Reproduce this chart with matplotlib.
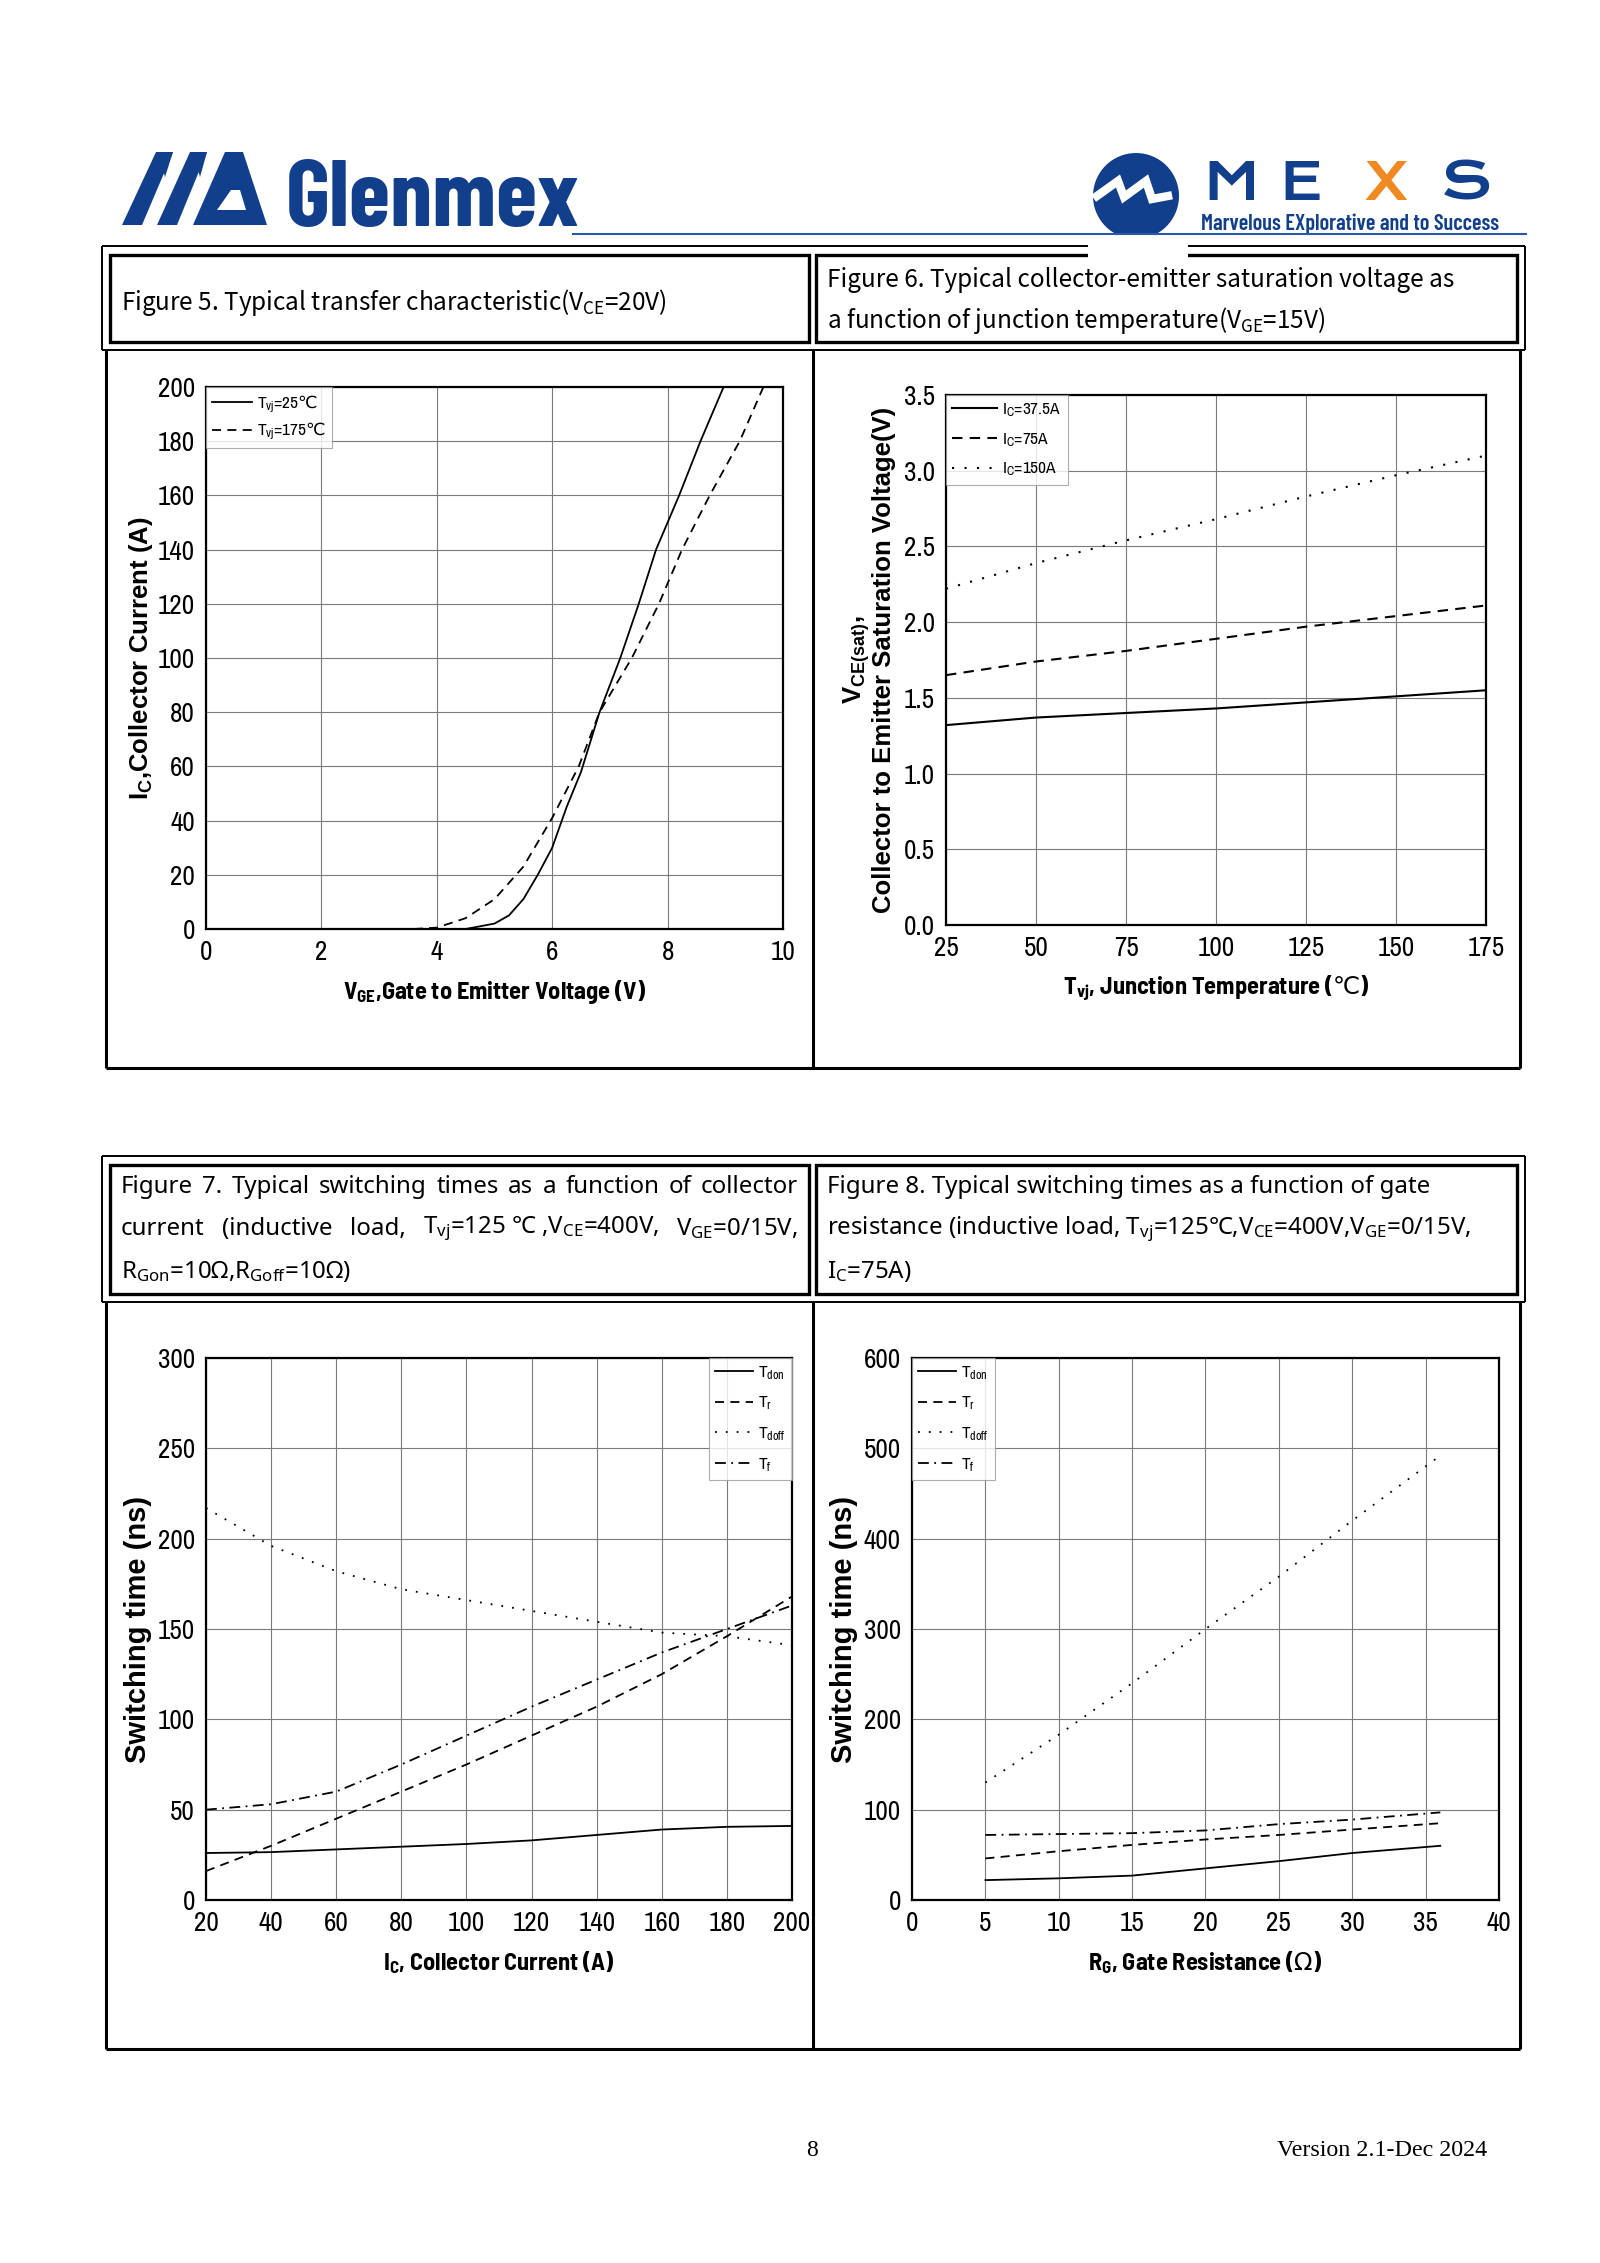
import matplotlib
matplotlib.use("Agg")
import matplotlib.pyplot as plt
from matplotlib.patches import Polygon, Circle, Rectangle
from matplotlib.ticker import FormatStrFormatter

# Figure 5: transfer characteristic (VCE=20V)
vge_25 = [3.5, 4.5, 5.0, 5.25, 5.5, 5.75, 6.0, 6.25, 6.5, 6.82, 7.18, 7.5, 7.8, 8.2, 8.57, 8.97]
ic_25 = [0, 0, 2, 5, 11, 20, 30, 45, 58, 80, 100, 120, 140, 160, 180, 200]
vge_175 = [3.6, 4.0, 4.5, 5.0, 5.5, 6.0, 6.46, 6.82, 7.38, 7.85, 8.25, 8.73, 9.25, 9.66]
ic_175 = [0, 0.5, 4, 11, 23, 41, 60, 80, 100, 120, 140, 160, 180, 200]

# Figure 6: VCE(sat) vs junction temperature
tvj = [25, 50, 75, 100, 125, 150, 175]
vce_37a = [1.32, 1.37, 1.40, 1.43, 1.47, 1.51, 1.55]
vce_75a = [1.65, 1.74, 1.81, 1.89, 1.97, 2.04, 2.11]
vce_150a = [2.22, 2.39, 2.54, 2.68, 2.83, 2.97, 3.10]

# Figure 7: switching times vs collector current
ic_sw = [20, 40, 60, 80, 100, 120, 140, 160, 180, 200]
tdon_ic = [26, 26.5, 28, 29.5, 31, 33, 36, 39, 40.5, 41]
tr_ic = [16, 30, 45, 60, 75, 91, 107, 125, 146, 168]
tdoff_ic = [217, 196, 182, 172, 166, 160, 154, 148, 146, 141]
tf_ic = [50, 53, 60, 75, 91, 107, 122, 137, 150, 163]

# Figure 8: switching times vs gate resistance
rg = [5, 10, 15, 20, 25, 30, 36]
tdon_rg = [22, 24, 27, 35, 43, 52, 60]
tr_rg = [46, 54, 61, 67, 72, 78, 85]
tdoff_rg = [130, 183, 240, 300, 358, 420, 492]
tf_rg = [72, 73, 74, 77, 84, 89, 97]

sw_labels = ["T$_{don}$", "T$_{r}$", "T$_{doff}$", "T$_{f}$"]
DEGC = "$\\mathrm{\u2103}$"
OHM = "$\\mathrm{\u03a9}$"

NARROW = ["Archivo Narrow", "Liberation Sans", "DejaVu Sans"]
NARROWB = ["Barlow Semi Condensed", "Liberation Sans", "DejaVu Sans"]
ARIAL = ["Liberation Sans", "DejaVu Sans"]
COND = ["Barlow Condensed", "Liberation Sans", "DejaVu Sans"]
WIDE = ["Krona One", "Lexend Zetta", "DejaVu Sans"]
HEAD56 = ["Noto Sans CJK SC", "DejaVu Sans"]
HEAD78 = ["Noto Sans", "Noto Sans CJK SC", "DejaVu Sans"]
BLUE = "#123f8c"

plt.rcParams["font.family"] = NARROW
plt.rcParams["mathtext.default"] = "regular"

SOLID = "-"
DASH = (0, (5, 3.5))
DOT = (0, (1, 5))
DASHDOT = (0, (6, 3, 1, 3))

W, H = 1600, 2263
fig = plt.figure(figsize=(16, 22.63), dpi=100)

page = fig.add_axes([0, 0, 1, 1], zorder=0)
page.set_xlim(0, W)
page.set_ylim(H, 0)
page.axis("off")


def px_axes(l, t, r, b):
    return fig.add_axes([l / W, 1 - b / H, (r - l) / W, (b - t) / H], zorder=2)


def style(ax, xlim, ylim, xticks, yticks):
    ax.set_xlim(xlim)
    ax.set_ylim(ylim)
    ax.set_xticks(xticks)
    ax.set_yticks(yticks)
    ax.grid(True, color="#7a7a7a", lw=0.8)
    ax.set_axisbelow(True)
    for s in ax.spines.values():
        s.set_linewidth(1.6)
    ax.tick_params(length=0, pad=8, labelsize=19.5)


def legend(ax, loc, spacing, hl=2.6):
    leg = ax.legend(loc=loc, borderaxespad=0, fancybox=False, fontsize=12.5,
                    handlelength=hl, handletextpad=0.3, labelspacing=spacing,
                    borderpad=0.35)
    leg.get_frame().set_edgecolor("#999999")
    leg.get_frame().set_linewidth(0.8)


def line(x0, y0, x1, y1, lw, color="black", z=2):
    page.plot([x0, x1], [y0, y1], color=color, lw=lw, solid_capstyle="butt", zorder=z)


def rect(x0, y0, x1, y1, lw):
    page.add_patch(Rectangle((x0, y0), x1 - x0, y1 - y0, fill=False, lw=lw,
                             edgecolor="black", joinstyle="miter"))


def justify(words, x0, x1, y, **kw):
    arts = [page.text(x0, y, w, va="center", ha="left", **kw) for w in words]
    r = fig.canvas.get_renderer()
    widths = [a.get_window_extent(renderer=r).width for a in arts]
    gap = ((x1 - x0) - sum(widths)) / (len(words) - 1)
    x = x0
    for a, wd in zip(arts, widths):
        a.set_x(x)
        x += wd + gap


# ---- header logos ----
mg = [
    [(122, 225), (142, 225), (173, 152), (156, 152)],
    [(156, 152), (173, 152), (165, 177), (163, 170)],
    [(157, 225), (177, 225), (207, 152), (190, 152)],
    [(190, 152), (207, 152), (200, 177), (198, 170)],
    [(193, 225), (267, 225), (243, 152), (225, 152)],
]
for pts in mg:
    page.add_patch(Polygon(pts, closed=True, color=BLUE, lw=0))
page.add_patch(Polygon([(217, 210), (246, 210), (240, 190), (231, 190)],
                       closed=True, color="white", lw=0))
page.text(286, 226, "Glenmex", fontsize=68, fontweight="bold", color=BLUE,
          ha="left", va="baseline", family=COND)

page.add_patch(Circle((1136, 196), 43, color=BLUE, lw=0, zorder=2))
page.add_patch(Rectangle((1088, 234), 100, 30, color="white", lw=0, zorder=3))
page.plot([1097, 1118, 1124, 1146, 1152, 1168], [196, 181, 197, 181, 199, 196],
          color="white", lw=6, solid_joinstyle="miter", zorder=4)
for ch, cx, col in [("M", 1231, BLUE), ("E", 1301, BLUE), ("X", 1386, "#ef8a22"), ("S", 1466, BLUE)]:
    page.text(cx, 200, ch, fontsize=37, color=col, ha="center", va="baseline",
              family=WIDE)
page.text(1201, 230, "Marvelous EXplorative and to Success", fontsize=16,
          fontweight="semibold", color=BLUE, ha="left", va="baseline", family=COND)
line(572, 234, 1527, 234, 1.5, color="#2a58a8", z=5)

# ---- frames ----
for top, hb, bottom in [(246, 350, 1068), (1156, 1302, 2049)]:
    line(102, top, 1525, top, 1.4)
    line(102, top, 102, hb, 1.4)
    line(1525, top, 1525, hb, 1.4)
    line(102, hb, 1525, hb, 1.4)
    rect(110, top + 9, 809, hb - 8, 2.4)
    rect(816, top + 9, 1517, hb - 8, 2.4)
    line(106, hb, 106, bottom, 2.2)
    line(813, hb, 813, bottom, 2.2)
    line(1520, hb, 1520, bottom, 2.2)
    line(106, bottom, 1520, bottom, 2.2)

# ---- header texts ----
page.text(121, 302, "Figure 5. Typical transfer characteristic(V$_{CE}$=20V)",
          fontsize=17.5, family=HEAD56, va="center", ha="left")
page.text(827, 280, "Figure 6. Typical collector-emitter saturation voltage as",
          fontsize=17.5, family=HEAD56, va="center", ha="left")
page.text(827, 320, "a function of junction temperature(V$_{GE}$=15V)",
          fontsize=17.5, family=HEAD56, va="center", ha="left")

justify("Figure 7. Typical switching times as a function of collector".split(),
        121, 798, 1187, fontsize=17.3, family=HEAD78)
justify(["current", "(inductive", "load,", "T$_{vj}$=125 \u2103 ,V$_{CE}$=400V,", "V$_{GE}$=0/15V,"],
        121, 798, 1229, fontsize=17.3, family=HEAD78)
page.text(121, 1271, "R$_{Gon}$=10\u03a9,R$_{Goff}$=10\u03a9)", fontsize=17.3,
          family=HEAD78, va="center", ha="left")
page.text(827, 1187, "Figure 8. Typical switching times as a function of gate",
          fontsize=17.3, family=HEAD78, va="center", ha="left")
page.text(827, 1229, "resistance (inductive load, T$_{vj}$=125\u2103,V$_{CE}$=400V,V$_{GE}$=0/15V,",
          fontsize=17.3, family=HEAD78, va="center", ha="left")
page.text(827, 1271, "I$_{C}$=75A)", fontsize=17.3, family=HEAD78, va="center", ha="left")

# ---- Figure 5 ----
ax5 = px_axes(206, 387, 783, 929)
ax5.plot(vge_25, ic_25, color="black", lw=1.3, ls=SOLID, label="T$_{vj}$=25" + DEGC)
ax5.plot(vge_175, ic_175, color="black", lw=1.3, ls=DASH, label="T$_{vj}$=175" + DEGC)
style(ax5, (0, 10), (0, 200), range(0, 11, 2), range(0, 201, 20))
ax5.set_xlabel("V$_{GE}$,Gate to Emitter Voltage (V)", fontsize=17.5, fontweight="bold",
               labelpad=9, family=NARROWB)
ax5.set_ylabel("I$_{C}$,Collector Current (A)", fontsize=18.5, fontweight="bold", labelpad=2,
               family=ARIAL)
legend(ax5, "upper left", 0.35, hl=2.3)

# ---- Figure 6 ----
ax6 = px_axes(946, 395, 1486, 925)
ax6.plot(tvj, vce_37a, color="black", lw=1.5, ls=SOLID, label="I$_{C}$=37.5A")
ax6.plot(tvj, vce_75a, color="black", lw=1.5, ls=DASH, label="I$_{C}$=75A")
ax6.plot(tvj, vce_150a, color="black", lw=1.5, ls=DOT, label="I$_{C}$=150A")
style(ax6, (25, 175), (0, 3.5), range(25, 176, 25), [i * 0.5 for i in range(8)])
ax6.yaxis.set_major_formatter(FormatStrFormatter("%.1f"))
ax6.set_xlabel("T$_{vj}$, Junction Temperature (" + DEGC + ")", fontsize=17.5,
               fontweight="bold", labelpad=9, family=NARROWB)
ax6.set_ylabel("V$_{CE(sat)}$,\nCollector to Emitter Saturation Voltage(V)", fontsize=18.5,
               fontweight="bold", labelpad=6, linespacing=1.0, family=ARIAL)
legend(ax6, "upper left", 0.7)

# ---- Figure 7 ----
ax7 = px_axes(206, 1358, 792, 1900)
for ys, ls in zip([tdon_ic, tr_ic, tdoff_ic, tf_ic], [SOLID, DASH, DOT, DASHDOT]):
    ax7.plot(ic_sw, ys, color="black", lw=1.3, ls=ls)
for lab, ls in zip(sw_labels, [SOLID, DASH, DOT, DASHDOT]):
    ax7.plot([], [], color="black", lw=1.3, ls=ls, label=lab)
style(ax7, (20, 200), (0, 300), range(20, 201, 20), range(0, 301, 50))
ax7.set_xlabel("I$_{C}$, Collector Current (A)", fontsize=17.5, fontweight="bold",
               labelpad=9, family=NARROWB)
ax7.set_ylabel("Switching time (ns)", fontsize=21, fontweight="bold", labelpad=4, family=ARIAL)
legend(ax7, "upper right", 0.75, hl=2.2)

# ---- Figure 8 ----
ax8 = px_axes(912, 1358, 1499, 1900)
for ys, ls in zip([tdon_rg, tr_rg, tdoff_rg, tf_rg], [SOLID, DASH, DOT, DASHDOT]):
    ax8.plot(rg, ys, color="black", lw=1.3, ls=ls)
for lab, ls in zip(sw_labels, [SOLID, DASH, DOT, DASHDOT]):
    ax8.plot([], [], color="black", lw=1.3, ls=ls, label=lab)
style(ax8, (0, 40), (0, 600), range(0, 41, 5), range(0, 601, 100))
ax8.set_xlabel("R$_{G}$, Gate Resistance (" + OHM + ")", fontsize=17.5, fontweight="bold",
               labelpad=9, family=NARROWB)
ax8.set_ylabel("Switching time (ns)", fontsize=21, fontweight="bold", labelpad=4, family=ARIAL)
legend(ax8, "upper left", 0.75, hl=2.2)

# ---- footer ----
page.text(812, 2150, "8", fontsize=17, family=["Liberation Serif"], ha="center", va="center")
page.text(1487, 2150, "Version 2.1-Dec 2024", fontsize=17.3, family=["Liberation Serif"],
          ha="right", va="center")

fig.savefig("out.png", dpi=100, facecolor="white")
